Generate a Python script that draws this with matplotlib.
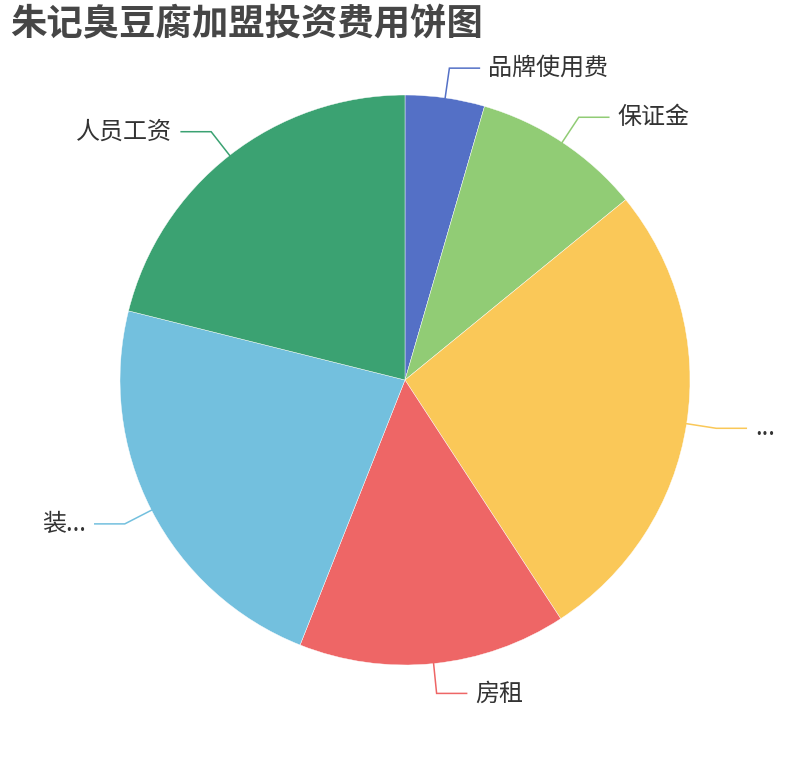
import matplotlib
matplotlib.use("Agg")
import matplotlib.pyplot as plt
import numpy as np

plt.rcParams['font.family'] = ['Noto Sans CJK SC', 'DejaVu Sans']

# data (share of total investment)
names = ["品牌使用费", "保证金", "...", "房租", "装...", "人员工资"]
values = [4.5, 9.6, 26.7, 15.2, 22.9, 21.1]
colors = ["#5470c6", "#91cc75", "#fac858", "#ee6666", "#73c0de", "#3ba272"]
title = "朱记臭豆腐加盟投资费用饼图"

W, H = 810, 760
fig = plt.figure(figsize=(W / 100, H / 100), dpi=100)
ax = fig.add_axes([0, 0, 1, 1])

cx, cy, r = 405, 380, 285
wedges, _ = ax.pie(values, colors=colors, startangle=90, counterclock=False,
                   center=(cx, cy), radius=r, frame=True,
                   wedgeprops=dict(linewidth=0.3, edgecolor='white'))
ax.set_xlim(0, W)
ax.set_ylim(0, H)
ax.set_aspect('equal')
ax.axis('off')

# label lines: radial segment then horizontal segment
for w, name, c in zip(wedges, names, colors):
    ang = np.deg2rad((w.theta1 + w.theta2) / 2)
    x0, y0 = cx + r * np.cos(ang), cy + r * np.sin(ang)
    x1, y1 = cx + (r + 30) * np.cos(ang), cy + (r + 30) * np.sin(ang)
    side = 1 if np.cos(ang) >= 0 else -1
    x2 = x1 + side * 30
    ax.plot([x0, x1, x2], [y0, y1, y1], color=c, lw=1.1, solid_joinstyle='miter')
    ax.text(x2 + side * 9, y1, name, fontsize=17.3, color='#333333',
            ha='left' if side > 0 else 'right', va='center')

ax.text(10, H - 25, title, fontsize=26.2, fontweight='bold', color='#464646',
        ha='left', va='center')

fig.savefig("out.png", dpi=100)
